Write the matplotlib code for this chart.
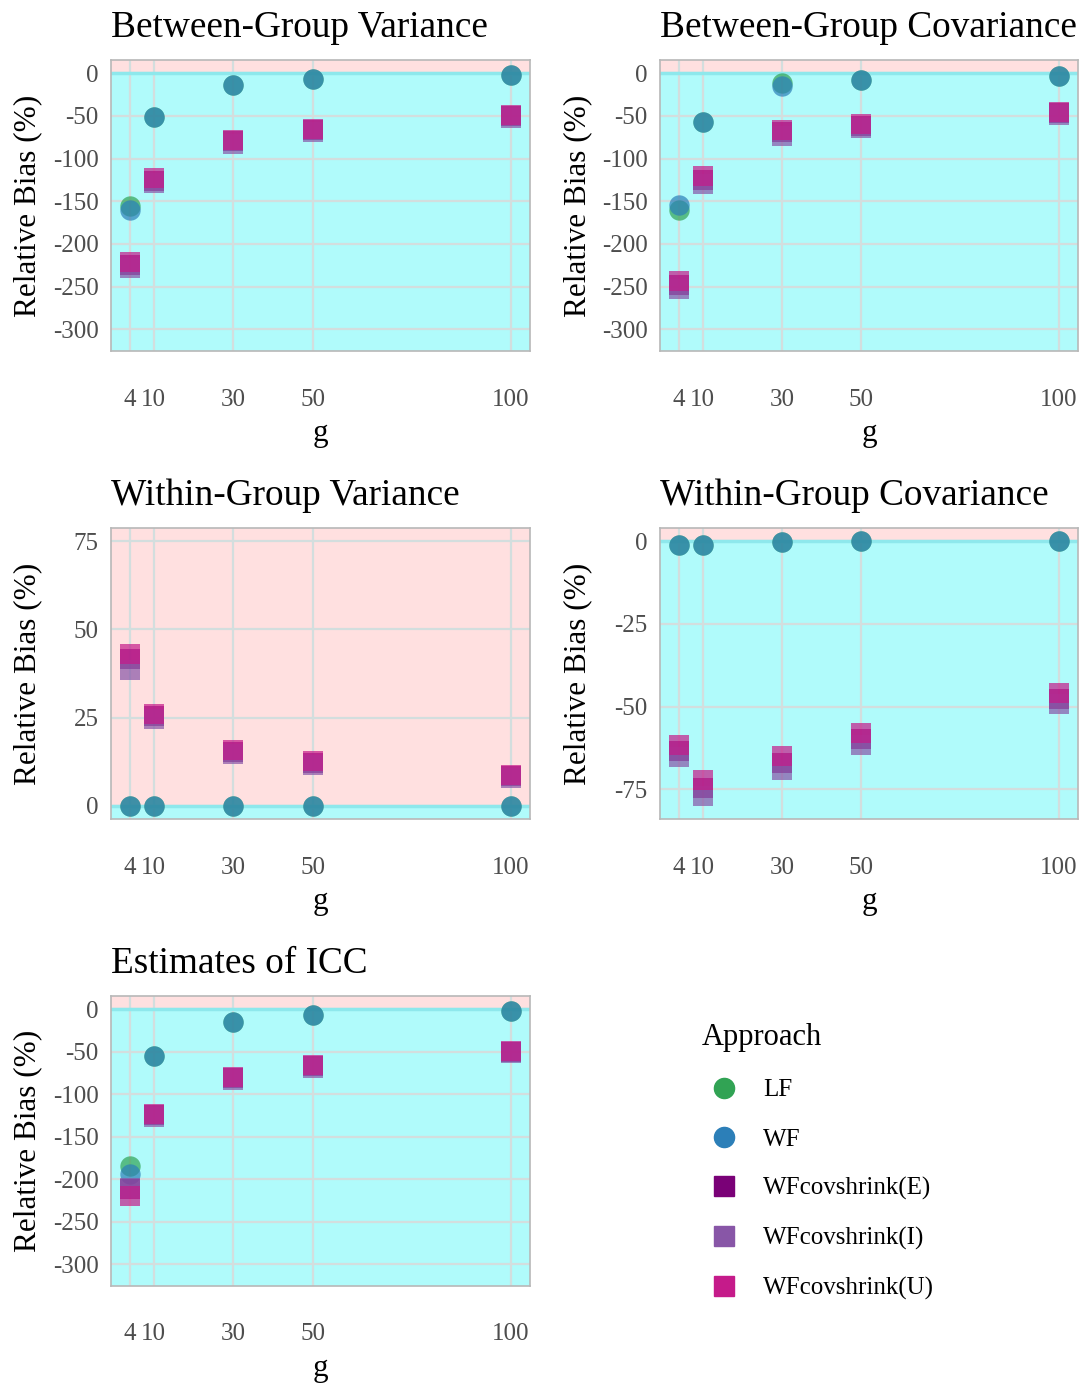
import matplotlib.pyplot as plt
from matplotlib.lines import Line2D

plt.rcParams['font.family'] = ['Liberation Serif', 'DejaVu Serif']
plt.rcParams['axes.unicode_minus'] = False

g = [4, 10, 30, 50, 100]
approaches = ["LF", "WF", "WFcovshrink(E)", "WFcovshrink(I)", "WFcovshrink(U)"]
colors = ["#31a354", "#2c7fb8", "#7a0177", "#8856a7", "#c51b8a"]
markers = ["o", "o", "s", "s", "s"]

# Between-group variance
bgv_lf = [-155, -51, -14, -7, -2]
bgv_wf = [-160, -51, -14, -7, -2]
bgv_e = [-225, -126, -80, -67, -50]
bgv_i = [-228.5, -129, -83.5, -69, -52]
bgv_u = [-221.5, -123, -78, -65, -48.6]

# Between-group covariance
bgc_lf = [-160, -57, -11, -8, -3]
bgc_wf = [-154, -57, -15, -8, -3]
bgc_e = [-248, -125, -69, -62, -47]
bgc_i = [-253, -130, -73, -64.5, -48.5]
bgc_u = [-243, -120, -66, -60, -45.5]

# Within-group variance
wgv_lf = [0, 0, 0, 0, 0]
wgv_wf = [0, 0, 0, 0, 0]
wgv_e = [41.5, 25.5, 15.3, 12.2, 8.4]
wgv_i = [38.6, 24.7, 14.7, 11.7, 7.9]
wgv_u = [43, 26, 15.8, 12.6, 8.8]

# Within-group covariance
wgc_lf = [-1.2, -1.0, -0.1, 0, 0]
wgc_wf = [-1.2, -1.0, -0.1, 0, 0]
wgc_e = [-63.5, -74.5, -67, -59.8, -47.6]
wgc_i = [-65.2, -76.9, -69.1, -61.7, -49.1]
wgc_u = [-61.7, -72.3, -64.8, -57.9, -46]

# ICC
icc_lf = [-184.7, -55.6, -14.5, -6.7, -2]
icc_wf = [-193.7, -55.6, -14.5, -6.7, -2]
icc_e = [-212, -125, -81, -67, -50.5]
icc_i = [-209.7, -126.4, -83.3, -68.9, -52]
icc_u = [-219.5, -123.6, -79.4, -65.7, -49.3]

W, H = 1085, 1386
fig = plt.figure(figsize=(W / 100, H / 100), dpi=100)


def place(l, t, r, b):
    return fig.add_axes([l / W, 1 - b / H, (r - l) / W, (b - t) / H])


def panel(ax, title, series, ylim, yticks):
    ax.axhspan(0, ylim[1], color="#ffe0e0", zorder=0)
    ax.axhspan(ylim[0], 0, color="#b0fbfb", zorder=0)
    for y in yticks:
        ax.axhline(y, color="#d3dede", lw=1.6, zorder=1)
    for x in g:
        ax.axvline(x, color="#d3dede", lw=1.6, zorder=1)
    ax.axhline(0, color="#8ee8ec", lw=2.5, zorder=1.5)
    for vals, c, m in zip(series, colors, markers):
        ax.scatter(g, vals, s=215, marker=m, color=c, alpha=0.7,
                   linewidths=0, zorder=3)
    ax.set_xlim(-0.8, 104.8)
    ax.set_ylim(*ylim)
    ax.set_xticks(g)
    ax.set_yticks(yticks)
    ax.tick_params(length=0, labelsize=18, labelcolor="#4d4d4d")
    ax.tick_params(axis="x", pad=27)
    ax.tick_params(axis="y", pad=9)
    for s in ax.spines.values():
        s.set_color("#b8b8b8")
        s.set_linewidth(1.2)
    ax.text(0, 1.08, title, transform=ax.transAxes, fontsize=26.8,
            va="baseline", ha="left")
    ax.set_ylabel("Relative Bias (%)", fontsize=22.5)
    ax.set_xlabel("g", fontsize=22.5)
    ax.yaxis.set_label_coords(-0.163, 0.5)
    ax.xaxis.set_label_coords(0.5, -0.235)


big_lim = (-325.5, 15.5)
big_ticks = [0, -50, -100, -150, -200, -250, -300]

ax1 = place(111, 60, 530, 351)
panel(ax1, "Between-Group Variance",
      [bgv_lf, bgv_wf, bgv_e, bgv_i, bgv_u], big_lim, big_ticks)

ax2 = place(660, 60, 1078, 351)
panel(ax2, "Between-Group Covariance",
      [bgc_lf, bgc_wf, bgc_e, bgc_i, bgc_u], big_lim, big_ticks)

ax3 = place(111, 528, 530, 819)
panel(ax3, "Within-Group Variance",
      [wgv_lf, wgv_wf, wgv_e, wgv_i, wgv_u], (-3.75, 78.75), [0, 25, 50, 75])

ax4 = place(660, 528, 1078, 819)
panel(ax4, "Within-Group Covariance",
      [wgc_lf, wgc_wf, wgc_e, wgc_i, wgc_u], (-84, 4), [0, -25, -50, -75])

ax5 = place(111, 996, 530, 1286)
panel(ax5, "Estimates of ICC",
      [icc_lf, icc_wf, icc_e, icc_i, icc_u], big_lim, big_ticks)

handles = [Line2D([], [], ls="", marker=m, color=c, markersize=14.5)
           for c, m in zip(colors, markers)]
fig.legend(handles, approaches, title="Approach", loc="upper left",
           bbox_to_anchor=(692 / W, 1 - 1013 / H), frameon=False,
           fontsize=18, title_fontsize=22, labelspacing=1.07,
           handlelength=1.8, handletextpad=0.65, alignment="left",
           borderaxespad=0)

fig.savefig("out.png", dpi=100)
